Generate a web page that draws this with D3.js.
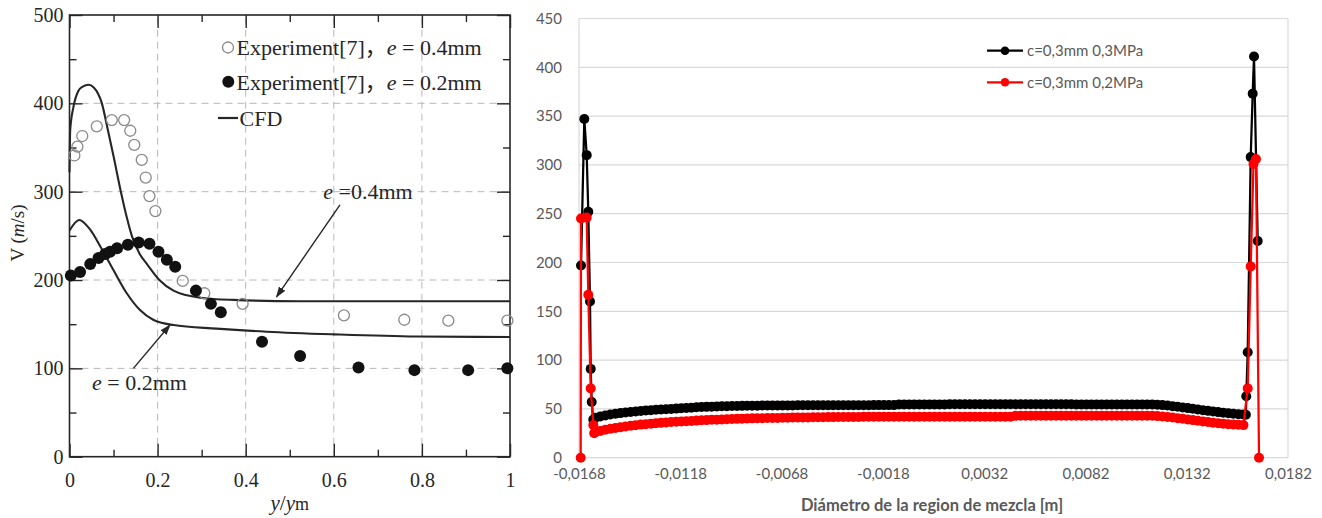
<!DOCTYPE html>
<html><head><meta charset="utf-8">
<script src="https://cdn.jsdelivr.net/npm/d3@7"></script>
<style>body{margin:0;background:#fff}svg{display:block}</style>
</head><body><svg id="c" width="1322" height="518"></svg>
<script>
// ---------------- LEFT CHART DATA ----------------
const leftXTicks = [0, 0.2, 0.4, 0.6, 0.8, 1];
const leftXMinor = [0.1, 0.3, 0.5, 0.7, 0.9];
const leftYTicks = [0, 100, 200, 300, 400, 500];
const leftYMinor = [50, 150, 250, 350, 450];
const leftGridX = [0.2, 0.4, 0.6, 0.8];
const leftGridY = [100, 200, 300, 400];

const expOpenX = [0.011,0.018,0.029,0.062,0.096,0.124,0.138,0.147,0.164,0.173,0.1815,0.195,0.257,0.306,0.393,0.623,0.760,0.860,0.994];
const expOpenV = [341,351,363,374,381,381,369,353,336,316,295,278,199,185,173,160,155,154,154];

const expFillX = [0.003,0.024,0.047,0.066,0.081,0.092,0.108,0.1325,0.157,0.1815,0.202,0.221,0.240,0.287,0.321,0.3435,0.437,0.5235,0.656,0.783,0.905,0.994];
const expFillV = [205,209,218,225,229.5,232,236,240,242.5,241,232,223,215,188,173,163.5,130,114,101,98,98,100];

const cfd04X = [0,0.0016,0.009,0.02,0.03,0.043,0.055,0.0735,0.087,0.1,0.1166,0.13,0.1415,0.16,0.176,0.204,0.236,0.297,0.372,0.523,0.75,1];
const cfd04V = [322,370,396,414,419,421,418,400,370,340,300,271,250,229,218,200,188,180,177.5,176,176,176];

const cfd02X = [0,0.022,0.047,0.07,0.1,0.13,0.16,0.19,0.236,0.334,0.448,0.599,0.788,1];
const cfd02V = [256,268,257,238,211,185,166,155,149,145,141.5,138.5,136,135.5];

const arrow04 = [[0.614,285],[0.470,181]];
const arrow02 = [[0.145,100],[0.228,149]];
const label04 = [0.576,291.7];
const label02 = [0.051,75.5];

// ---------------- RIGHT CHART DATA ----------------
const rightXTicks = [-0.0168,-0.0118,-0.0068,-0.0018,0.0032,0.0082,0.0132,0.0182];
const rightYTicks = [0,50,100,150,200,250,300,350,400,450];
const seriesNames = ["c=0,3mm 0,3MPa","c=0,3mm 0,2MPa"];

const diamMid = [-0.016,-0.01575,-0.0155,-0.01525,-0.015,-0.01475,-0.0145,-0.01425,-0.014,-0.01375,
-0.0135,-0.01325,-0.013,-0.01275,-0.0125,-0.01225,-0.012,-0.01175,-0.0115,-0.01125,
-0.011,-0.01075,-0.0105,-0.01025,-0.01,-0.00975,-0.0095,-0.00925,-0.009,-0.00875,
-0.0085,-0.00825,-0.008,-0.00775,-0.0075,-0.00725,-0.007,-0.00675,-0.0065,-0.00625,
-0.006,-0.00575,-0.0055,-0.00525,-0.005,-0.00475,-0.0045,-0.00425,-0.004,-0.00375,
-0.0035,-0.00325,-0.003,-0.00275,-0.0025,-0.00225,-0.002,-0.00175,-0.0015,-0.00125,
-0.001,-0.00075,-0.0005,-0.00025,0,0.00025,0.0005,0.00075,0.001,0.00125,
0.0015,0.00175,0.002,0.00225,0.0025,0.00275,0.003,0.00325,0.0035,0.00375,
0.004,0.00425,0.0045,0.00475,0.005,0.00525,0.0055,0.00575,0.006,0.00625,
0.0065,0.00675,0.007,0.00725,0.0075,0.00775,0.008,0.00825,0.0085,0.00875,
0.009,0.00925,0.0095,0.00975,0.01,0.01025,0.0105,0.01075,0.011,0.01125,
0.0115,0.01175,0.012,0.01225,0.0125,0.01275,0.013,0.01325,0.0135,0.01375,
0.014,0.01425,0.0145,0.01475,0.015,0.01525,0.0155,0.01575,0.016];

const velBlackMid = [41,42.3,43.3,44.2,45,45.7,46.3,46.9,47.4,47.9,
48.3,48.7,49.1,49.4,49.7,50,50.3,50.6,50.9,51.2,
51.6,51.9,52.1,52.3,52.5,52.7,52.8,52.9,53,53.1,
53.2,53.3,53.3,53.4,53.4,53.5,53.5,53.6,53.6,53.6,
53.7,53.7,53.7,53.7,53.7,53.8,53.8,53.8,53.8,53.8,
53.8,53.8,53.8,53.8,53.8,53.9,53.9,53.9,53.9,53.9,
54.6,54.6,54.6,54.6,54.6,54.6,54.6,54.6,54.6,54.6,
54.7,54.7,54.7,54.7,54.7,54.7,54.7,54.7,54.7,54.7,
54.7,54.7,54.7,54.7,54.7,54.7,54.7,54.7,54.7,54.7,
54.7,54.7,54.7,54.7,54.7,54.6,54.6,54.6,54.6,54.6,
54.6,54.6,54.6,54.6,54.6,54.6,54.6,54.6,54.6,54.6,
54.6,54.3,53.9,53.4,52.8,52.2,51.5,50.8,50.1,49.4,
48.7,48,47.3,46.7,46.1,45.6,45.1,44.6,44.2];

const velRedMid = [26,27.4,28.6,29.6,30.5,31.3,32,32.7,33.3,33.9,
34.4,34.9,35.3,35.7,36.1,36.5,36.8,37.1,37.4,37.7,
38,38.3,38.5,38.8,39,39.2,39.4,39.6,39.8,40,
40.1,40.3,40.4,40.5,40.6,40.7,40.8,40.9,41,41.1,
41.2,41.3,41.3,41.4,41.5,41.5,41.6,41.6,41.7,41.7,
41.8,41.8,41.8,41.9,41.9,41.9,42,42,42,42,
42,42,42,42,42,42,42,42,42,42,
42,42,42,42,42,42,42,42,42,42,
42,42,42,42.9,42.9,42.9,42.9,42.9,42.9,42.9,
42.9,42.9,42.9,42.9,42.9,42.9,42.9,42.9,42.9,42.9,
42.9,42.9,42.9,42.9,42.9,42.9,42.9,42.9,42.9,42.9,
42.9,42.6,42.2,41.7,41.1,40.5,39.9,39.2,38.5,37.8,
37.1,36.5,35.9,35.3,34.8,34.4,34,33.7,33.4];

const diamBlackLeft = [-0.016701,-0.016538,-0.01642,-0.016341,-0.016257,-0.016222,-0.016173,-0.016094];
const velBlackLeft = [197,347,310,252,160,91,57,39];
const diamBlackRight = [0.01612,0.01614,0.016211,0.016359,0.016457,0.016522,0.016705];
const velBlackRight = [44,63,108,308,373,411,222];

const diamRedLeft = [-0.016716,-0.016701,-0.01642,-0.016341,-0.016222,-0.016094,-0.01605];
const velRedLeft = [0,245,246,167,71,33.5,25];
const diamRedRight = [0.016211,0.016359,0.016497,0.016621,0.016769];
const velRedRight = [71,196,301,306,0];

// ---------------- DRAW ----------------
const svg = d3.select('#c');
const serif = '"Liberation Serif","Times New Roman",serif';
const ink = '#262626';

// ===== LEFT =====
const xL = d3.scaleLinear().domain([0,1]).range([69.5,510]);
const yL = d3.scaleLinear().domain([0,500]).range([456.7,15]);
const gL = svg.append('g');

gL.selectAll('line.gx').data(leftGridX).join('line')
  .attr('x1',d=>xL(d)).attr('x2',d=>xL(d)).attr('y1',yL(0)).attr('y2',yL(500))
  .attr('stroke','#b8b8b8').attr('stroke-width',1).attr('stroke-dasharray','7,5');
gL.selectAll('line.gy').data(leftGridY).join('line')
  .attr('x1',xL(0)).attr('x2',xL(1)).attr('y1',d=>yL(d)).attr('y2',d=>yL(d))
  .attr('stroke','#b8b8b8').attr('stroke-width',1).attr('stroke-dasharray','7,5');

function styleAxis(g){
  g.select('.domain').remove();
  g.selectAll('line').attr('stroke',ink).attr('stroke-width',1.4);
  g.selectAll('text').attr('font-family',serif).attr('font-size',20).attr('fill',ink);
}
const fmtL = d => (d===0||d===1) ? String(d) : d3.format('.1f')(d);
gL.append('g').attr('transform',`translate(0,${yL(0)})`)
  .call(d3.axisBottom(xL).tickValues(leftXTicks).tickSize(-13).tickPadding(16).tickFormat(fmtL)).call(styleAxis);
gL.append('g').attr('transform',`translate(0,${yL(0)})`)
  .call(d3.axisBottom(xL).tickValues(leftXMinor).tickSize(-7).tickFormat('')).call(styleAxis);
gL.append('g').attr('transform',`translate(0,${yL(500)})`)
  .call(d3.axisTop(xL).tickValues(leftXTicks).tickSize(-13).tickFormat('')).call(styleAxis);
gL.append('g').attr('transform',`translate(0,${yL(500)})`)
  .call(d3.axisTop(xL).tickValues(leftXMinor).tickSize(-7).tickFormat('')).call(styleAxis);
gL.append('g').attr('transform',`translate(${xL(0)},0)`)
  .call(d3.axisLeft(yL).tickValues(leftYTicks).tickSize(-13).tickPadding(6)).call(styleAxis);
gL.append('g').attr('transform',`translate(${xL(0)},0)`)
  .call(d3.axisLeft(yL).tickValues(leftYMinor).tickSize(-7).tickFormat('')).call(styleAxis);
gL.append('g').attr('transform',`translate(${xL(1)},0)`)
  .call(d3.axisRight(yL).tickValues(leftYTicks).tickSize(-13).tickFormat('')).call(styleAxis);
gL.append('g').attr('transform',`translate(${xL(1)},0)`)
  .call(d3.axisRight(yL).tickValues(leftYMinor).tickSize(-7).tickFormat('')).call(styleAxis);

gL.append('rect').attr('x',xL(0)).attr('y',yL(500)).attr('width',xL(1)-xL(0)).attr('height',yL(0)-yL(500))
  .attr('fill','none').attr('stroke',ink).attr('stroke-width',1.6);

const lineL = d3.line().x(d=>xL(d[0])).y(d=>yL(d[1])).curve(d3.curveMonotoneX);
gL.append('path').attr('d',lineL(d3.zip(cfd04X,cfd04V))).attr('fill','none').attr('stroke',ink).attr('stroke-width',2.1);
gL.append('path').attr('d',lineL(d3.zip(cfd02X,cfd02V))).attr('fill','none').attr('stroke',ink).attr('stroke-width',2.1);

gL.selectAll('circle.op').data(d3.zip(expOpenX,expOpenV)).join('circle')
  .attr('cx',d=>xL(d[0])).attr('cy',d=>yL(d[1])).attr('r',5.5)
  .attr('fill','none').attr('stroke','#8a8a8a').attr('stroke-width',1.3);
gL.selectAll('circle.fl').data(d3.zip(expFillX,expFillV)).join('circle')
  .attr('cx',d=>xL(d[0])).attr('cy',d=>yL(d[1])).attr('r',6).attr('fill','#111');

// arrows
const defs = svg.append('defs');
defs.append('marker').attr('id','ah').attr('viewBox','0 0 10 10').attr('refX',9).attr('refY',5)
  .attr('markerWidth',11).attr('markerHeight',11).attr('markerUnits','userSpaceOnUse').attr('orient','auto')
  .append('path').attr('d','M0,1.5 L10,5 L0,8.5 Z').attr('fill',ink);
[arrow04, arrow02].forEach(a=>{
  gL.append('line').attr('x1',xL(a[0][0])).attr('y1',yL(a[0][1])).attr('x2',xL(a[1][0])).attr('y2',yL(a[1][1]))
    .attr('stroke',ink).attr('stroke-width',1.4).attr('marker-end','url(#ah)');
});
function rich(g,x,y,parts,size){
  const t=g.append('text').attr('x',x).attr('y',y).attr('font-family',serif).attr('font-size',size).attr('fill',ink);
  parts.forEach(p=>{const s=t.append('tspan').text(p.t); if(p.i) s.attr('font-style','italic'); if(p.s) s.attr('font-size',p.s); if(p.f) s.attr('font-family',p.f);});
  return t;
}
const cjk = '"Noto Sans CJK SC"';
rich(gL,xL(label04[0]),yL(label04[1]),[{t:'e',i:1},{t:' =0.4mm'}],22);
rich(gL,xL(label02[0]),yL(label02[1]),[{t:'e',i:1},{t:' = 0.2mm'}],22);

// legend
gL.append('circle').attr('cx',228).attr('cy',47.5).attr('r',5.5).attr('fill','none').attr('stroke','#8a8a8a').attr('stroke-width',1.3);
rich(gL,236.5,55,[{t:'Experiment[7]'},{t:'，',f:cjk},{t:'e',i:1},{t:' = 0.4mm'}],22);
gL.append('circle').attr('cx',228.3).attr('cy',81.7).attr('r',6).attr('fill','#111');
rich(gL,236.5,89.5,[{t:'Experiment[7]'},{t:'，',f:cjk},{t:'e',i:1},{t:' = 0.2mm'}],22);
gL.append('line').attr('x1',218).attr('x2',238).attr('y1',118).attr('y2',118).attr('stroke',ink).attr('stroke-width',2.2);
rich(gL,239.5,125.5,[{t:'CFD'}],22);

// axis titles
rich(gL,xL(0.5),510,[{t:'y',i:1},{t:'/'},{t:'y',i:1},{t:'m',s:18}],21).attr('text-anchor','middle');
rich(gL,0,0,[{t:'V ('},{t:'m',i:1},{t:'/s)'}],19).attr('text-anchor','middle')
  .attr('transform','translate(24,233) rotate(-90)');

// ===== RIGHT =====
const sans = 'Lato,"Open Sans",sans-serif';
const grey = '#595959';
const xR = d3.scaleLinear().domain([-0.0168,0.0182]).range([579,1288]);
const yR = d3.scaleLinear().domain([0,450]).range([457.7,18.5]);
const gR = svg.append('g');

gR.selectAll('line.gy').data(rightYTicks).join('line')
  .attr('x1',xR(-0.0168)).attr('x2',xR(0.0182)).attr('y1',d=>yR(d)).attr('y2',d=>yR(d))
  .attr('stroke','#d9d9d9').attr('stroke-width',1.2);
gR.append('line').attr('x1',xR(0.0182)).attr('x2',xR(0.0182)).attr('y1',yR(0)).attr('y2',yR(450))
  .attr('stroke','#d9d9d9').attr('stroke-width',1.2);
gR.append('line').attr('x1',xR(-0.0168)).attr('x2',xR(-0.0168)).attr('y1',yR(0)).attr('y2',yR(450))
  .attr('stroke','#d9d9d9').attr('stroke-width',1.2);

const axYR = gR.append('g').attr('transform',`translate(${xR(-0.0168)},0)`)
  .call(d3.axisLeft(yR).tickValues(rightYTicks).tickSize(0).tickPadding(17));
const axXR = gR.append('g').attr('transform',`translate(0,${yR(0)})`)
  .call(d3.axisBottom(xR).tickValues(rightXTicks).tickSize(0).tickPadding(11).tickFormat(d=>d.toFixed(4).replace('.',',')));
[axYR,axXR].forEach(a=>{a.select('.domain').remove(); a.selectAll('text').attr('font-family',sans).attr('font-size',15).attr('fill',grey);});

gR.append('text').attr('x',932).attr('y',511).attr('text-anchor','middle')
  .attr('font-family',sans).attr('font-size',16.5).attr('font-weight','bold').attr('fill',grey)
  .text('Diámetro de la region de mezcla [m]');

const blackX = [...diamBlackLeft, ...diamMid, ...diamBlackRight];
const blackV = [...velBlackLeft, ...velBlackMid, ...velBlackRight];
const redX = [...diamRedLeft, ...diamMid, ...diamRedRight];
const redV = [...velRedLeft, ...velRedMid, ...velRedRight];

const lineR = d3.line().x(d=>xR(d[0])).y(d=>yR(d[1]));
function series(xs, vs, color){
  const pts = d3.zip(xs, vs);
  gR.append('path').attr('d',lineR(pts)).attr('fill','none').attr('stroke',color).attr('stroke-width',2.25).attr('stroke-linejoin','round');
  gR.append('g').selectAll('circle').data(pts).join('circle')
    .attr('cx',d=>xR(d[0])).attr('cy',d=>yR(d[1])).attr('r',5).attr('fill',color);
}
series(blackX, blackV, '#000000');
series(redX, redV, '#ff0000');

// legend
const legR = gR.append('g');
[['#000000',50.7],['#ff0000',82.3]].forEach((c,i)=>{
  legR.append('line').attr('x1',987).attr('x2',1023).attr('y1',c[1]).attr('y2',c[1]).attr('stroke',c[0]).attr('stroke-width',2.25);
  legR.append('circle').attr('cx',1005).attr('cy',c[1]).attr('r',4.3).attr('fill',c[0]);
  legR.append('text').attr('x',1027).attr('y',c[1]).attr('dy','0.35em').attr('font-family',sans).attr('font-size',15).attr('fill',grey).text(seriesNames[i]);
});
</script></body></html>
